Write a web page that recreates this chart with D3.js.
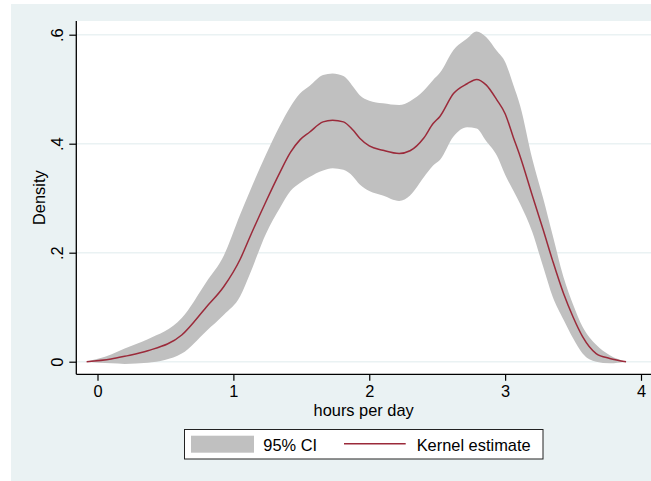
<!DOCTYPE html>
<html>
<head>
<meta charset="utf-8">
<script src="https://cdn.jsdelivr.net/npm/d3@7/dist/d3.min.js"></script>
<style>
  html, body { margin: 0; padding: 0; background: #ffffff; }
  svg { display: block; font-family: "Liberation Sans", Arial, Helvetica, sans-serif; }
</style>
</head>
<body>
<svg id="chart" width="651" height="481"></svg>
<script>
// ---- data ----
const hours = [-0.08, 0.1, 0.2, 0.37, 0.62, 0.8, 0.93, 1.05, 1.12, 1.24, 1.34, 1.42, 1.49, 1.56, 1.66, 1.73, 1.81, 1.88, 1.93, 2.0, 2.1, 2.22, 2.3, 2.4, 2.47, 2.52, 2.62, 2.72, 2.79, 2.86, 2.94, 3.0, 3.06, 3.11, 3.2, 3.28, 3.35, 3.43, 3.5, 3.57, 3.67, 3.77, 3.89];
const kernelEstimate = [0, 0.005, 0.010, 0.020, 0.049, 0.100, 0.138, 0.188, 0.228, 0.294, 0.346, 0.384, 0.407, 0.421, 0.440, 0.443, 0.440, 0.425, 0.410, 0.396, 0.388, 0.382, 0.387, 0.410, 0.437, 0.450, 0.492, 0.510, 0.518, 0.508, 0.480, 0.455, 0.412, 0.377, 0.305, 0.242, 0.185, 0.125, 0.082, 0.046, 0.015, 0.006, 0];
const ciLower = [0, -0.003, -0.004, -0.002, 0.015, 0.056, 0.086, 0.120, 0.160, 0.235, 0.281, 0.313, 0.328, 0.339, 0.351, 0.355, 0.352, 0.340, 0.325, 0.313, 0.305, 0.295, 0.305, 0.338, 0.360, 0.370, 0.413, 0.430, 0.428, 0.405, 0.378, 0.343, 0.314, 0.290, 0.238, 0.174, 0.119, 0.077, 0.043, 0.015, 0.0, -0.003, 0];
const ciUpper = [0, 0.013, 0.024, 0.041, 0.080, 0.146, 0.195, 0.270, 0.312, 0.380, 0.432, 0.468, 0.492, 0.506, 0.526, 0.529, 0.524, 0.505, 0.489, 0.479, 0.474, 0.471, 0.478, 0.497, 0.517, 0.530, 0.572, 0.593, 0.606, 0.596, 0.570, 0.550, 0.508, 0.470, 0.372, 0.300, 0.232, 0.155, 0.105, 0.064, 0.031, 0.012, 0];
const xTicks = [0, 1, 2, 3, 4];
const yTicks = [0, 0.2, 0.4, 0.6];
const yTickLabels = ["0", ".2", ".4", ".6"];
const xTitle = "hours per day";
const yTitle = "Density";
const legendLabels = ["95% CI", "Kernel estimate"];

// ---- layout ----
const svg = d3.select("#chart");
const bg = "#eaf2f3";
const ciColor = "#c0c0c0";
const lineColor = "#9b2a3a";
const fontSize = 16.4;

const plot = { left: 76.3, right: 651, top: 21, bottom: 374.3 };
const x = d3.scaleLinear().domain([0, 4]).range([97.5, 641]);
const y = d3.scaleLinear().domain([0, 0.6]).range([361.7, 34.7]);

// graph region background
svg.append("rect").attr("x", 11).attr("y", 4).attr("width", 640).attr("height", 477).attr("fill", bg);
// plot region
svg.append("rect").attr("x", plot.left).attr("y", plot.top)
  .attr("width", plot.right - plot.left).attr("height", plot.bottom - plot.top).attr("fill", "#ffffff");

// gridlines
svg.append("g").selectAll("line").data(yTicks).join("line")
  .attr("x1", plot.left).attr("x2", plot.right)
  .attr("y1", d => y(d)).attr("y2", d => y(d))
  .attr("stroke", bg).attr("stroke-width", 1.5);

const rows = hours.map((h, i) => ({ h, est: kernelEstimate[i], lo: ciLower[i], hi: ciUpper[i] }));

// CI band
const area = d3.area()
  .x(d => x(d.h)).y0(d => y(d.lo)).y1(d => y(d.hi))
  .curve(d3.curveMonotoneX);
svg.append("path").datum(rows).attr("d", area).attr("fill", ciColor);

// kernel estimate
const line = d3.line().x(d => x(d.h)).y(d => y(d.est)).curve(d3.curveMonotoneX);
svg.append("path").datum(rows).attr("d", line)
  .attr("fill", "none").attr("stroke", lineColor).attr("stroke-width", 1.5);

// y axis
const yAxis = d3.axisLeft(y).tickValues(yTicks).tickSize(7).tickPadding(6)
  .tickFormat((d, i) => yTickLabels[i]);
const gy = svg.append("g").attr("transform", `translate(${plot.left},0)`).call(yAxis);
gy.select(".domain").remove();
gy.selectAll(".tick line").attr("stroke", "#000").attr("stroke-width", 1.2);
gy.selectAll(".tick text")
  .attr("font-size", fontSize).attr("fill", "#000")
  .attr("x", 0).attr("dy", 0)
  .attr("text-anchor", "middle")
  .attr("transform", "translate(-13,0) rotate(-90)");
svg.append("line").attr("x1", plot.left).attr("x2", plot.left)
  .attr("y1", plot.top).attr("y2", plot.bottom).attr("stroke", "#000").attr("stroke-width", 1.3);

// x axis
const xAxis = d3.axisBottom(x).tickValues(xTicks).tickSize(6.5).tickPadding(5)
  .tickFormat(d3.format("d"));
const gx = svg.append("g").attr("transform", `translate(0,${plot.bottom})`).call(xAxis);
gx.select(".domain").remove();
gx.selectAll(".tick line").attr("stroke", "#000").attr("stroke-width", 1.2);
gx.selectAll(".tick text").attr("font-size", fontSize).attr("fill", "#000")
  .attr("y", 23).attr("dy", 0);
svg.append("line").attr("x1", plot.left).attr("x2", plot.right)
  .attr("y1", plot.bottom).attr("y2", plot.bottom).attr("stroke", "#000").attr("stroke-width", 1.3);

// axis titles
svg.append("text").attr("x", (plot.left + plot.right) / 2).attr("y", 415.7)
  .attr("text-anchor", "middle").attr("font-size", fontSize).attr("fill", "#000").text(xTitle);
svg.append("text").attr("transform", `translate(44.7,${(plot.top + plot.bottom) / 2}) rotate(-90)`)
  .attr("text-anchor", "middle").attr("font-size", fontSize).attr("fill", "#000").text(yTitle);

// legend
const lg = svg.append("g");
lg.append("rect").attr("x", 184.5).attr("y", 429.5).attr("width", 358.5).attr("height", 29.5)
  .attr("fill", "#fff").attr("stroke", "#222").attr("stroke-width", 1);
lg.append("rect").attr("x", 191).attr("y", 435.7).attr("width", 63).attr("height", 17).attr("fill", ciColor);
lg.append("text").attr("x", 263.3).attr("y", 450.5).attr("font-size", fontSize).attr("fill", "#000").text(legendLabels[0]);
lg.append("line").attr("x1", 344).attr("x2", 405.7).attr("y1", 443.7).attr("y2", 443.7)
  .attr("stroke", lineColor).attr("stroke-width", 1.5);
lg.append("text").attr("x", 416.7).attr("y", 450.5).attr("font-size", fontSize).attr("fill", "#000").text(legendLabels[1]);
</script>
</body>
</html>
